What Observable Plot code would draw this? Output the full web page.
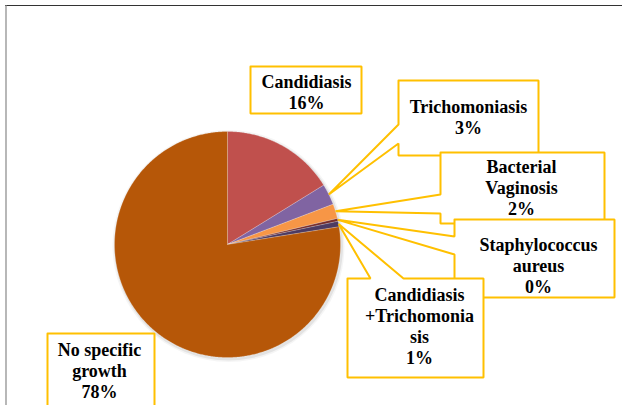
<!DOCTYPE html>
<html><head><meta charset="utf-8">
<script src="https://cdn.jsdelivr.net/npm/d3@7"></script>
<script src="https://cdn.jsdelivr.net/npm/@observablehq/plot@0.6"></script>
</head><body style="margin:0"><div id="chart"></div>
<script>
// ---- data ----
const categories = ["Candidiasis", "Trichomoniasis", "Bacterial Vaginosis", "Staphylococcus aureus", "Candidiasis +Trichomoniasis", "No specific growth"];
const values = [16.2, 3.0, 2.1, 0.4, 0.8, 77.5];
const percentLabels = ["16%", "3%", "2%", "0%", "1%", "78%"];
const labelLines = [["Candidiasis"], ["Trichomoniasis"], ["Bacterial", "Vaginosis"], ["Staphylococcus", "aureus"], ["Candidiasis", "+Trichomonia", "sis"], ["No specific", "growth"]];
const colors = ["#C0504D", "#8064A2", "#F79646", "#772C2A", "#4D3B62", "#B65708"];

// ---- layout ----
const W = 622, H = 405, cx = 227, cy = 244, R = 113, lineStep = 21;
const layout = [
  {box: [250, 66, 361, 113], tx: 306, ty: 92.5, wedge: null},
  {box: [398, 80, 538, 155], tx: 468, ty: 117, wedge: {side: "left", a: 124, b: 143}},
  {box: [440, 152, 604, 223], tx: 521, ty: 188, wedge: {side: "left", a: 194, b: 213}},
  {box: [454, 219, 614, 297], tx: 538, ty: 266, wedge: {side: "left", a: 236, b: 254}},
  {box: [347, 278, 483, 377], tx: 419, ty: 326, wedge: {side: "top", a: 370, b: 403}},
  {box: [47, 333, 154, 414], tx: 99, ty: 371, wedge: null}
];

const pie = d3.pie().sort(null).value(d => d)(values);
const toXY = (a, r) => ({x: cx + r * Math.sin(a), y: cy - r * Math.cos(a)});

const slicePolys = pie.map((p) => {
  const pts = [{x: cx, y: cy}];
  const n = Math.max(2, Math.ceil((p.endAngle - p.startAngle) / (Math.PI / 360)));
  for (let k = 0; k <= n; k++) pts.push(toXY(p.startAngle + (p.endAngle - p.startAngle) * k / n, R));
  pts.push({x: cx, y: cy});
  return pts;
});

function callout(i) {
  const [x1, y1, x2, y2] = layout[i].box;
  const w = layout[i].wedge;
  const p = pie[i];
  const apex = toXY((p.startAngle + p.endAngle) / 2, R);
  if (!w) return [{x: x1, y: y1}, {x: x2, y: y1}, {x: x2, y: y2}, {x: x1, y: y2}, {x: x1, y: y1}];
  if (w.side === "left") return [{x: x1, y: y1}, {x: x2, y: y1}, {x: x2, y: y2}, {x: x1, y: y2}, {x: x1, y: w.b}, apex, {x: x1, y: w.a}, {x: x1, y: y1}];
  return [{x: x1, y: y1}, {x: w.a, y: y1}, apex, {x: w.b, y: y1}, {x: x2, y: y1}, {x: x2, y: y2}, {x: x1, y: y2}, {x: x1, y: y1}];
}

const marks = [];
// frame lines
marks.push(Plot.ruleY([5], {x1: 5, x2: W, stroke: "#333", strokeWidth: 1.2}));
marks.push(Plot.ruleX([5.5], {y1: 5, y2: H, stroke: "#888", strokeWidth: 1.2}));
// soft shadow
marks.push(Plot.dot([{x: cx + 1, y: cy + 1.5}], {x: "x", y: "y", r: R + 3, fill: "#000", fillOpacity: 0.04, stroke: "none"}));
marks.push(Plot.dot([{x: cx + 1, y: cy + 1.5}], {x: "x", y: "y", r: R + 1.5, fill: "#000", fillOpacity: 0.07, stroke: "none"}));
// slices
slicePolys.forEach((pts, i) => {
  marks.push(Plot.line(pts, {x: "x", y: "y", fill: colors[i], stroke: "#ffffff", strokeOpacity: 0.35, strokeWidth: 0.6, curve: "linear"}));
});
// callouts
layout.forEach((l, i) => {
  marks.push(Plot.line(callout(i), {x: "x", y: "y", fill: "#fff", stroke: "#FFC000", strokeWidth: 2, strokeLinejoin: "miter", curve: "linear"}));
});
// texts: one mark per line, serif bold
layout.forEach((l, i) => {
  const lines = labelLines[i].concat([percentLabels[i]]);
  lines.forEach((s, k) => {
    marks.push(Plot.text([s], {
      x: l.tx, y: l.ty + (k - (lines.length - 1) / 2) * lineStep, text: d => d,
      fontFamily: "Times New Roman", fontWeight: "bold", fontSize: 18
    }));
  });
});

const chart = Plot.plot({
  width: W, height: H, margin: 0,
  x: {domain: [0, W], range: [0, W], axis: null},
  y: {domain: [0, H], range: [0, H], axis: null},
  marks
});
document.getElementById("chart").appendChild(chart);
</script>
</body></html>
